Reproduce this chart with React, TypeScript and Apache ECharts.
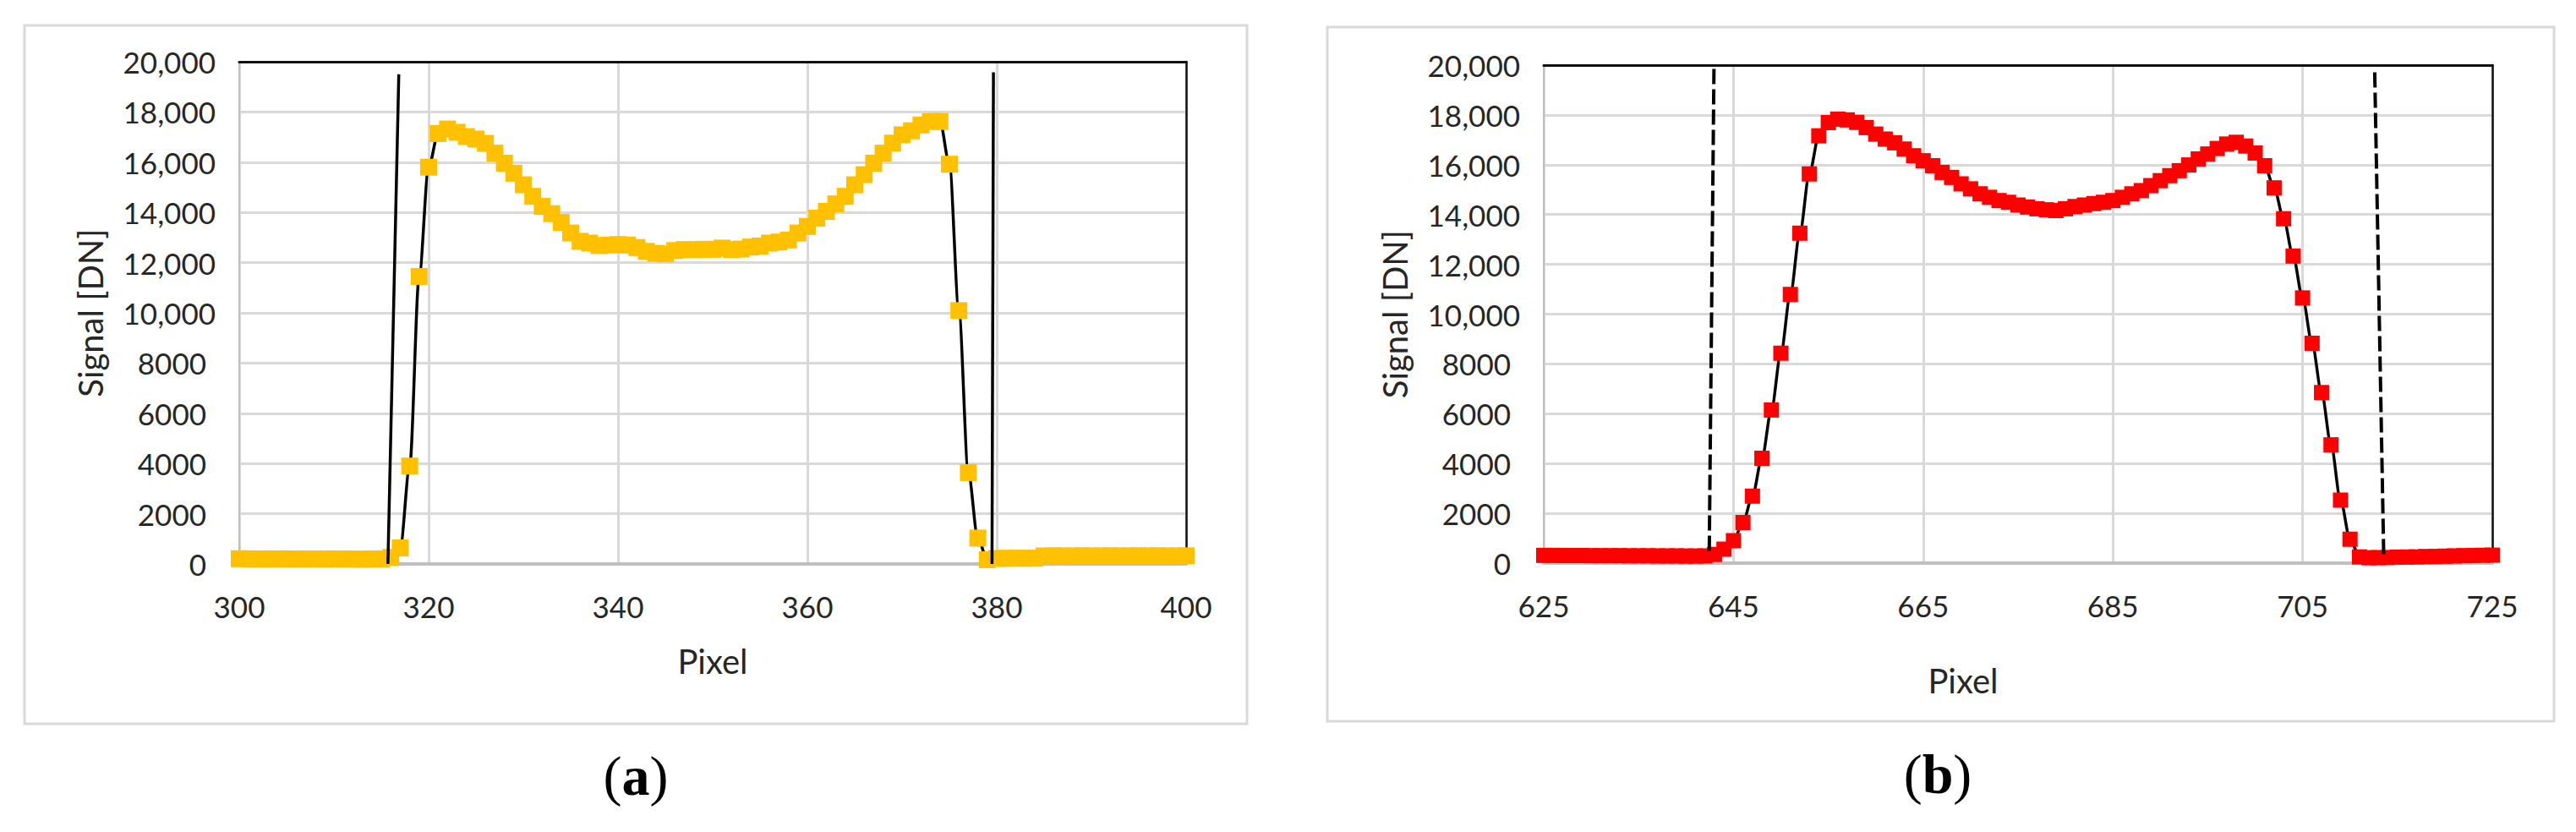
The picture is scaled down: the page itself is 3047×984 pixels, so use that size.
import React, { useEffect, useRef } from "react";
import * as echarts from "echarts";

// ---------- data ----------
const PIXEL_START_A = 300; // first pixel of panel (a)
const signalA = [
  210, 205, 200, 200, 205, 200, 195, 200, 200, 195, 200, 200, 195, 190, 195, 200, // 300-315
  260, 640, 3900, 11450, 15800, 17140, 17320, 17190, 17020, 16920, // 316-325
  16750, 16360, 15960, 15560, 15100, 14640, 14240, 13950, 13600, 13180, // 326-335
  12850, 12780, 12680, 12700, 12720, 12700, 12600, 12450, 12370, 12350, // 336-345
  12480, 12520, 12520, 12530, 12530, 12580, 12520, 12540, 12620, 12660, // 346-355
  12780, 12820, 12900, 13180, 13440, 13770, 14040, 14340, 14640, 15100, // 356-365
  15500, 15960, 16360, 16760, 17090, 17250, 17480, 17620, 17620, 15920, // 366-375
  10090, 3640, 1030, 170, 220, 225, 230, 230, 230, // 376-384
  320, 325, 320, 320, 325, 320, 320, 325, 320, 320, 325, 320, 325, 320, 320, 325, // 385-400
];

const PIXEL_START_B = 625; // first pixel of panel (b)
const signalB = [
  310, 310, 305, 305, 305, 300, 300, 300, 300, 295, 295, 295, 290, 290, 290, 285, 285, 290, // 625-642
  350, 560, 900, 1630, 2690, 4210, 6150, 8430, 10790, 13250, 15630, 17160, // 643-654
  17690, 17830, 17800, 17700, 17490, 17230, 17030, 16880, 16630, 16360, // 655-664
  16160, 15960, 15690, 15490, 15230, 15030, 14830, 14690, 14560, 14490, // 665-674
  14380, 14300, 14230, 14190, 14160, 14230, 14320, 14380, 14440, 14490, // 675-684
  14560, 14690, 14830, 14960, 15160, 15360, 15560, 15760, 15990, 16230, // 685-694
  16430, 16650, 16830, 16900, 16750, 16470, 15960, 15070, 13830, 12330, // 695-704
  10650, 8830, 6850, 4750, 2530, 960, // 705-710
  250, 215, 220, 225, 240, 245, 250, 265, 270, 280, 290, 300, 305, 315, 320, // 711-725
];

// edge-detection lines [pixel, signal]
const edgeLeftA = [[315.7, 0], [316.85, 19500]];
const edgeRightA = [[379.5, 0], [379.65, 19580]];
const edgeLeftB = [[642.45, 490], [642.95, 20000]];
const edgeRightB = [[713.55, 360], [712.6, 19800]];

const X_RANGE_A = [300, 400];
const X_RANGE_B = [625, 725];
const X_STEP = 20;
const Y_RANGE = [0, 20000];
const Y_STEP = 2000;

const AXIS_TITLE_X = "Pixel";
const AXIS_TITLE_Y = "Signal [DN]";
const PANEL_LABELS = ["a", "b"];

// ---------- styles ----------
const FONT = "Lato, 'Noto Sans', sans-serif";
const TXT = "#262626";
const GRID_C = "#d9d9d9";
const AXIS_C = "#bfbfbf";

function yFmt(v: number) {
  if (v >= 10000) return v.toLocaleString("en-US");
  return "{n|" + v + "}";
}

function makeAxes(gi: number, xr: number[], offset: number, nameGap: number, namePad: number[]) {
  const labelStyle = { fontSize: 35, fontFamily: FONT, color: TXT };
  const x = [
    {
      type: "value",
      gridIndex: gi,
      position: "bottom",
      min: xr[0] - offset,
      max: xr[1] - offset,
      interval: X_STEP,
      axisLine: { show: true, onZero: false, lineStyle: { color: AXIS_C, width: 4 } },
      axisTick: { show: false },
      splitLine: { show: true, lineStyle: { color: GRID_C, width: 3 } },
      axisLabel: { ...labelStyle, margin: 32, formatter: (v: number) => String(v + offset) },
      name: AXIS_TITLE_X,
      nameLocation: "middle",
      nameGap,
      nameTextStyle: { fontSize: 40, fontFamily: FONT, color: TXT, padding: namePad },
    },
    {
      type: "value",
      gridIndex: gi,
      position: "top",
      min: xr[0] - offset,
      max: xr[1] - offset,
      axisLine: { show: true, onZero: false, lineStyle: { color: "#111", width: 3 } },
      axisTick: { show: false },
      axisLabel: { show: false },
      splitLine: { show: false },
    },
  ];
  const y = [
    {
      type: "value",
      gridIndex: gi,
      position: "left",
      min: Y_RANGE[0],
      max: Y_RANGE[1],
      interval: Y_STEP,
      axisLine: { show: true, onZero: false, lineStyle: { color: AXIS_C, width: 2 } },
      axisTick: { show: false },
      splitLine: { show: true, lineStyle: { color: GRID_C, width: 3 } },
      axisLabel: {
        ...labelStyle,
        margin: 28,
        formatter: yFmt,
        rich: { n: { ...labelStyle, padding: [0, 11, 0, 0] } },
      },
      name: AXIS_TITLE_Y,
      nameLocation: "middle",
      nameGap: 156,
      nameTextStyle: { fontSize: 40, fontFamily: FONT, color: TXT },
    },
    {
      type: "value",
      gridIndex: gi,
      position: "right",
      min: Y_RANGE[0],
      max: Y_RANGE[1],
      axisLine: { show: true, onZero: false, lineStyle: { color: "#111", width: 2.5 } },
      axisTick: { show: false },
      axisLabel: { show: false },
      splitLine: { show: false },
    },
  ];
  return { x, y };
}

export default function App() {
  const ref = useRef<HTMLDivElement>(null);

  useEffect(() => {
    document.body.style.margin = "0";
    if (!ref.current) return;
    const chart = echarts.init(ref.current, null, { renderer: "svg" });

    const axA = makeAxes(0, X_RANGE_A, 0, 95, [0, 0, 0, 0]);
    const axB = makeAxes(1, X_RANGE_B, PIXEL_START_B, 119, [0, 130, 0, 0]);

    const dataA = signalA.map((v, i) => [PIXEL_START_A + i, v]);
    const dataB = signalB.map((v, i) => [i, v]); // x relative to PIXEL_START_B
    const shiftB = (pts: number[][]) => pts.map((p) => [p[0] - PIXEL_START_B, p[1]]);

    const signalSeries = (data: number[][], xi: number, yi: number, color: string, size: number) => ({
      type: "line",
      xAxisIndex: xi,
      yAxisIndex: yi,
      data,
      smooth: 0.3,
      smoothMonotone: "x",
      symbol: "rect",
      symbolSize: size,
      showAllSymbol: true,
      clip: false,
      itemStyle: { color },
      lineStyle: { color: "#000", width: 3.5 },
      z: 3,
    });
    const edgeSeries = (data: number[][], xi: number, yi: number, dashed: boolean) => ({
      type: "line",
      xAxisIndex: xi,
      yAxisIndex: yi,
      data,
      symbol: "none",
      clip: false,
      lineStyle: { color: "#000", width: dashed ? 4 : 3.5, type: dashed ? [18, 6] : "solid" },
      z: 4,
    });

    chart.setOption({
      animation: false,
      backgroundColor: "#fff",
      grid: [
        { left: 283, top: 73, width: 1120, height: 594 },
        { left: 1826, top: 77, width: 1122, height: 589 },
      ],
      xAxis: [...axA.x, ...axB.x],
      yAxis: [...axA.y, ...axB.y],
      series: [
        signalSeries(dataA, 0, 0, "#FFC000", 20),
        edgeSeries(edgeLeftA, 0, 0, false),
        edgeSeries(edgeRightA, 0, 0, false),
        signalSeries(dataB, 2, 2, "#FF0000", 18),
        edgeSeries(shiftB(edgeLeftB), 2, 2, true),
        edgeSeries(shiftB(edgeRightB), 2, 2, true),
      ],
      graphic: [
        {
          type: "rect",
          shape: { x: 29, y: 30, width: 1446, height: 826 },
          style: { fill: "none", stroke: GRID_C, lineWidth: 3 },
          z: -1,
        },
        {
          type: "rect",
          shape: { x: 1570, y: 32, width: 1451, height: 821 },
          style: { fill: "none", stroke: GRID_C, lineWidth: 3 },
          z: -1,
        },
        {
          type: "text",
          x: 752,
          y: 917,
          style: {
            text: "({b|" + PANEL_LABELS[0] + "})",
            fontSize: 66,
            fontFamily: "'Liberation Serif', 'DejaVu Serif', serif",
            fill: "#000",
            align: "center",
            verticalAlign: "middle",
            rich: { b: { fontWeight: "bold", fontSize: 66, fontFamily: "'Liberation Serif', serif" } },
          },
        },
        {
          type: "text",
          x: 2292,
          y: 915,
          style: {
            text: "({b|" + PANEL_LABELS[1] + "})",
            fontSize: 66,
            fontFamily: "'Liberation Serif', 'DejaVu Serif', serif",
            fill: "#000",
            align: "center",
            verticalAlign: "middle",
            rich: { b: { fontWeight: "bold", fontSize: 66, fontFamily: "'Liberation Serif', serif" } },
          },
        },
      ],
    });

    return () => chart.dispose();
  }, []);

  return <div ref={ref} style={{ width: 3047, height: 984 }} />;
}
